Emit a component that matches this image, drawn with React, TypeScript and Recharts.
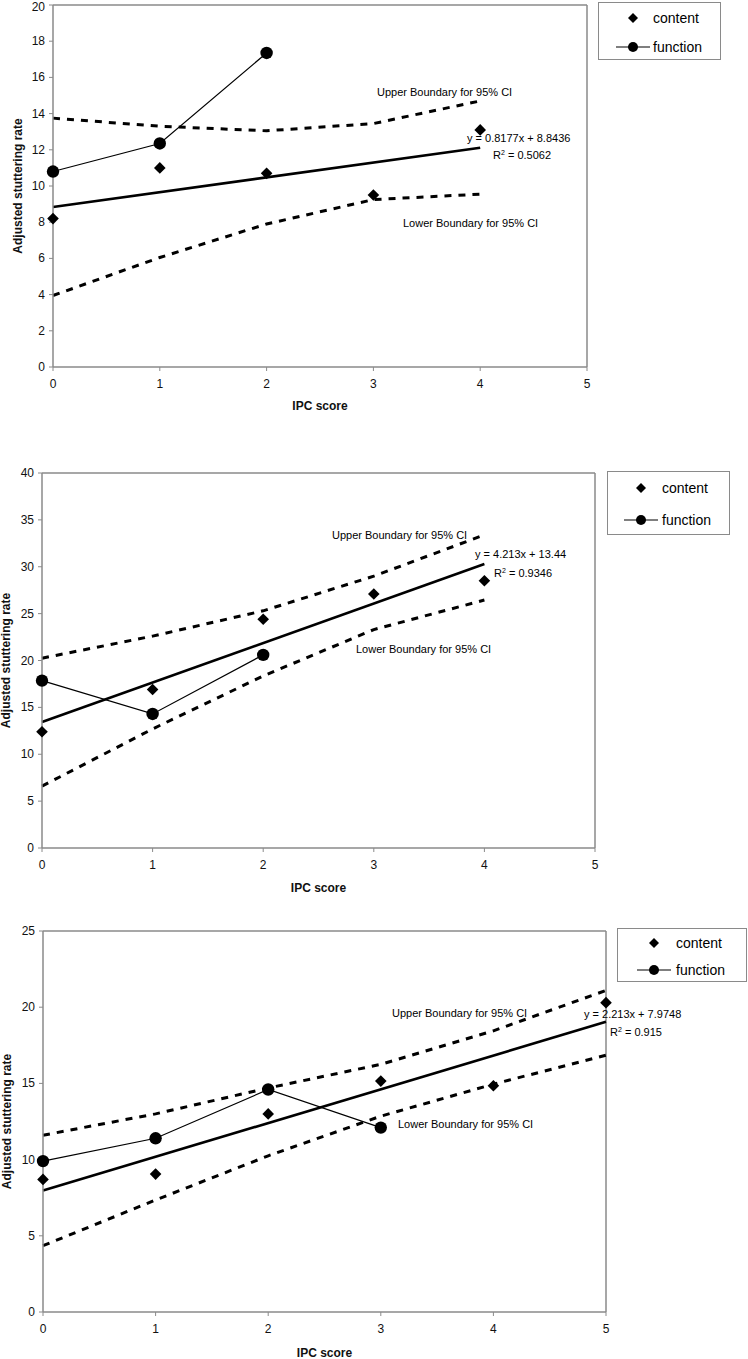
import React from 'react';
import { ComposedChart, Line, Scatter, XAxis, YAxis, ReferenceLine, Legend } from 'recharts';

const FONT = '"Liberation Sans", Arial, Helvetica, sans-serif';
const AXIS_GRAY = '#8a8a8a';

// ---------- data ----------
const ipcTicks = [0, 1, 2, 3, 4, 5];
const legendNames = ['content', 'function'];

// Panel 1
const p1YTicks = [0, 2, 4, 6, 8, 10, 12, 14, 16, 18, 20];
const p1ContentY = [8.2, 11.0, 10.7, 9.5, 13.1];
const p1FunctionY = [10.8, 12.35, 17.35];
const p1UpperY = [13.75, 13.3, 13.05, 13.45, 14.7];
const p1LowerY = [3.95, 6.05, 7.9, 9.25, 9.55];
const p1TrendX = [0, 4];
const p1TrendY = [8.84, 12.11];

// Panel 2
const p2YTicks = [0, 5, 10, 15, 20, 25, 30, 35, 40];
const p2ContentY = [12.4, 16.9, 24.4, 27.1, 28.5];
const p2FunctionY = [17.85, 14.3, 20.6];
const p2UpperY = [20.25, 22.6, 25.3, 29.0, 33.4];
const p2LowerY = [6.6, 12.7, 18.35, 23.3, 26.45];
const p2TrendX = [0, 4];
const p2TrendY = [13.44, 30.29];

// Panel 3
const p3YTicks = [0, 5, 10, 15, 20, 25];
const p3ContentY = [8.7, 9.05, 13.0, 15.15, 14.85, 20.3];
const p3FunctionY = [9.9, 11.4, 14.6, 12.1];
const p3UpperY = [11.6, 13.0, 14.7, 16.25, 18.45, 21.1];
const p3LowerY = [4.35, 7.35, 10.25, 12.85, 14.95, 16.85];
const p3TrendX = [0, 5];
const p3TrendY = [7.97, 19.04];

const toRows = (ys: number[], xs?: number[]) =>
  ys.map((y, i) => ({ x: xs ? xs[i] : ipcTicks[i], y }));

// ---------- shapes ----------
const Diamond = (props: any) => {
  const { cx, cy } = props;
  if (cx == null || cy == null) return null;
  const r = 5.8;
  return (
    <polygon
      points={`${cx},${cy - r} ${cx + r},${cy} ${cx},${cy + r} ${cx - r},${cy}`}
      fill="#000"
    />
  );
};

const YTick = (props: any) => {
  const { x, y, payload } = props;
  const yy = Math.max(y, 7);
  return (
    <text
      x={x}
      y={yy}
      textAnchor="end"
      dominantBaseline="central"
      fontFamily={FONT}
      fontSize={12}
      fill="#111"
    >
      {payload.value}
    </text>
  );
};

const LegendBox = ({ g }: { g: any }) => (
  <div
    style={{
      width: g.w,
      height: g.h,
      boxSizing: 'border-box',
      border: `1.5px solid ${AXIS_GRAY}`,
      background: '#fff',
      position: 'relative',
      fontFamily: FONT,
      fontSize: 14,
      color: '#000',
    }}
  >
    {legendNames.map((name, i) => (
      <div key={name} style={{ position: 'absolute', left: 0, top: g.rows[i] - 9, height: 18, width: g.w }}>
        <svg width={g.textX} height={18} style={{ position: 'absolute', left: 0, top: 0 }}>
          {i === 0 ? (
            <polygon
              points={`${g.mx},${9 - 5} ${g.mx + 5},9 ${g.mx},${9 + 5} ${g.mx - 5},9`}
              fill="#000"
            />
          ) : (
            <g>
              <line x1={g.mx - 17} x2={g.mx + 17} y1={9} y2={9} stroke="#000" strokeWidth={1.2} />
              <circle cx={g.mx} cy={9} r={5} fill="#000" />
            </g>
          )}
        </svg>
        <span style={{ position: 'absolute', left: g.textX, top: 0, lineHeight: '18px' }}>{name}</span>
      </div>
    ))}
  </div>
);

type PanelProps = {
  top: number;
  height: number;
  margin: any;
  yWidth: number;
  yMax: number;
  yTicks: number[];
  content: number[];
  func: number[];
  upper: number[];
  lower: number[];
  trendX: number[];
  trendY: number[];
  legend: any;
  yLabelX: number;
  xLabelDy: number;
};

const Panel = (p: PanelProps) => {
  const tickStyle = { fill: '#111', fontSize: 12, fontFamily: FONT };
  return (
    <div style={{ position: 'absolute', left: 0, top: p.top, width: 748, height: p.height }}>
      <ComposedChart width={748} height={p.height} margin={p.margin}>
        <XAxis
          type="number"
          dataKey="x"
          domain={[0, 5]}
          ticks={ipcTicks}
          interval={0}
          height={30}
          axisLine={{ stroke: AXIS_GRAY, strokeWidth: 1.5 }}
          tickLine={{ stroke: AXIS_GRAY }}
          tickSize={4}
          tickMargin={8}
          tick={tickStyle}
          label={(props: any) => {
            const vb = props.viewBox || {};
            return (
              <text
                x={vb.x + vb.width / 2}
                y={vb.y + p.xLabelDy}
                textAnchor="middle"
                dominantBaseline="central"
                fontFamily={FONT}
                fontSize={12}
                fontWeight="bold"
                fill="#111"
              >
                IPC score
              </text>
            );
          }}
        />
        <YAxis
          type="number"
          dataKey="y"
          domain={[0, p.yMax]}
          ticks={p.yTicks}
          interval={0}
          width={p.yWidth}
          axisLine={{ stroke: AXIS_GRAY, strokeWidth: 1.5 }}
          tickLine={{ stroke: AXIS_GRAY }}
          tickSize={4}
          tickMargin={4}
          tick={<YTick />}
          label={(props: any) => {
            const vb = props.viewBox || {};
            const cx = p.yLabelX;
            const cy = vb.y + vb.height / 2;
            return (
              <text
                x={cx}
                y={cy}
                transform={`rotate(-90 ${cx} ${cy})`}
                textAnchor="middle"
                dominantBaseline="central"
                fontFamily={FONT}
                fontSize={12}
                fontWeight="bold"
                fill="#111"
              >
                Adjusted stuttering rate
              </text>
            );
          }}
        />
        <ReferenceLine y={p.yMax} stroke={AXIS_GRAY} strokeWidth={1.5} />
        <ReferenceLine x={5} stroke={AXIS_GRAY} strokeWidth={1.5} />
        <Line
          data={toRows(p.upper)}
          dataKey="y"
          name="Upper Boundary for 95% CI"
          type="linear"
          stroke="#000"
          strokeWidth={3}
          strokeDasharray="7 7"
          dot={false}
          activeDot={false}
          isAnimationActive={false}
          legendType="none"
        />
        <Line
          data={toRows(p.lower)}
          dataKey="y"
          name="Lower Boundary for 95% CI"
          type="linear"
          stroke="#000"
          strokeWidth={3}
          strokeDasharray="7 7"
          dot={false}
          activeDot={false}
          isAnimationActive={false}
          legendType="none"
        />
        <Line
          data={toRows(p.trendY, p.trendX)}
          dataKey="y"
          name="Linear (content)"
          type="linear"
          stroke="#000"
          strokeWidth={2.6}
          dot={false}
          activeDot={false}
          isAnimationActive={false}
          legendType="none"
        />
        <Line
          data={toRows(p.func)}
          dataKey="y"
          name="function"
          type="linear"
          stroke="#000"
          strokeWidth={1.2}
          dot={{ r: 6.2, fill: '#000', stroke: '#000', strokeWidth: 0 }}
          activeDot={false}
          isAnimationActive={false}
        />
        <Scatter
          data={toRows(p.content)}
          name="content"
          fill="#000"
          shape={Diamond}
          isAnimationActive={false}
        />
        <Legend
          layout="vertical"
          align="center"
          verticalAlign="middle"
          wrapperStyle={{ left: p.legend.left, top: p.legend.top, width: p.legend.w, height: p.legend.h }}
          content={() => <LegendBox g={p.legend} />}
        />
      </ComposedChart>
    </div>
  );
};

const Note = ({ left, top, children }: { left: number; top: number; children: any }) => (
  <div
    style={{
      position: 'absolute',
      left,
      top,
      fontFamily: FONT,
      fontSize: 11,
      lineHeight: '12px',
      color: '#000',
      whiteSpace: 'nowrap',
      background: 'transparent',
    }}
  >
    {children}
  </div>
);

const Sq = () => <sup style={{ fontSize: 7, verticalAlign: 'top', position: 'relative', top: -2 }}>2</sup>;

export default function App() {
  return (
    <div style={{ position: 'absolute', left: 0, top: 0, width: 748, height: 1359, background: '#fff', overflow: 'hidden' }}>
      <Panel
        top={0}
        height={420}
        margin={{ top: 5, right: 161, bottom: 23, left: 8 }}
        yWidth={45}
        yMax={20}
        yTicks={p1YTicks}
        content={p1ContentY}
        func={p1FunctionY}
        upper={p1UpperY}
        lower={p1LowerY}
        trendX={p1TrendX}
        trendY={p1TrendY}
        legend={{ left: 598, top: 2, w: 123, h: 58, rows: [15, 44], mx: 34, textX: 54 }}
        yLabelX={18}
        xLabelDy={39}
      />
      <Panel
        top={440}
        height={460}
        margin={{ top: 33, right: 153, bottom: 22, left: 2 }}
        yWidth={40}
        yMax={40}
        yTicks={p2YTicks}
        content={p2ContentY}
        func={p2FunctionY}
        upper={p2UpperY}
        lower={p2LowerY}
        trendX={p2TrendX}
        trendY={p2TrendY}
        legend={{ left: 607, top: 31, w: 123, h: 64, rows: [16, 48], mx: 33, textX: 54 }}
        yLabelX={6}
        xLabelDy={40}
      />
      <Panel
        top={900}
        height={459}
        margin={{ top: 31, right: 142, bottom: 17, left: 3 }}
        yWidth={40}
        yMax={25}
        yTicks={p3YTicks}
        content={p3ContentY}
        func={p3FunctionY}
        upper={p3UpperY}
        lower={p3LowerY}
        trendX={p3TrendX}
        trendY={p3TrendY}
        legend={{ left: 617, top: 28, w: 130, h: 54, rows: [14, 41], mx: 36, textX: 58 }}
        yLabelX={7}
        xLabelDy={41}
      />

      {/* Panel 1 annotations */}
      <Note left={377} top={86}>Upper Boundary for 95% CI</Note>
      <Note left={403} top={217}>Lower Boundary for 95% CI</Note>
      <Note left={467} top={132}>y = 0.8177x + 8.8436</Note>
      <Note left={493} top={149}>R<Sq /> = 0.5062</Note>

      {/* Panel 2 annotations */}
      <Note left={332} top={529}>Upper Boundary for 95% CI</Note>
      <Note left={356} top={643}>Lower Boundary for 95% CI</Note>
      <Note left={475} top={548}>y = 4.213x + 13.44</Note>
      <Note left={494} top={567}>R<Sq /> = 0.9346</Note>

      {/* Panel 3 annotations */}
      <Note left={392} top={1007}>Upper Boundary for 95% CI</Note>
      <Note left={398} top={1118}>Lower Boundary for 95% CI</Note>
      <Note left={584} top={1008}>y = 2.213x + 7.9748</Note>
      <Note left={610} top={1026}>R<Sq /> = 0.915</Note>
    </div>
  );
}
